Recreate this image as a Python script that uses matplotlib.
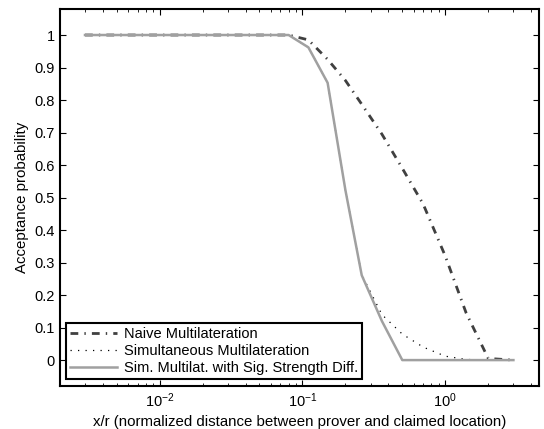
import matplotlib
matplotlib.use("Agg")
import matplotlib.pyplot as plt

plt.rcParams['font.family'] = ['Liberation Sans', 'DejaVu Sans']
plt.rcParams['mathtext.default'] = 'regular'

# distance samples (x/r) and acceptance probabilities
x_ratio = [0.003, 0.01, 0.03, 0.08, 0.11, 0.15, 0.2, 0.26, 0.36, 0.5, 0.7, 1.0, 1.4, 2.0, 3.0]
naive = [1, 1, 1, 1, 0.985, 0.925, 0.86, 0.787, 0.695, 0.59, 0.48, 0.32, 0.145, 0.005, 0]
simultaneous = [1, 1, 1, 1, 0.962, 0.853, 0.522, 0.263, 0.14, 0.08, 0.04, 0.012, 0.002, 0, 0]
sig_strength = [1, 1, 1, 1, 0.962, 0.853, 0.522, 0.261, 0.12, 0, 0, 0, 0, 0, 0]

labels = ["Naive Multilateration",
          "Simultaneous Multilateration",
          "Sim. Multilat. with Sig. Strength Diff."]

fig = plt.figure(figsize=(5.44, 4.29), dpi=100)
ax = fig.add_axes([0.110, 0.100, 0.880, 0.879])

ax.plot(x_ratio, naive, color='#404040', lw=2.0,
        linestyle=(0, (2.8, 2.2, 0.5, 2.2)), label=labels[0])
ax.plot(x_ratio, simultaneous, color='black', lw=0.9,
        linestyle=(0, (1, 5)), label=labels[1])
ax.plot(x_ratio, sig_strength, color='#a0a0a0', lw=1.8, label=labels[2])

ax.set_xscale('log')
ax.set_xlim(0.002, 4.5)
ax.set_ylim(-0.08, 1.08)
ax.set_yticks([0, 0.1, 0.2, 0.3, 0.4, 0.5, 0.6, 0.7, 0.8, 0.9, 1])
ax.set_yticklabels(['0', '0.1', '0.2', '0.3', '0.4', '0.5', '0.6', '0.7', '0.8', '0.9', '1'])

ax.tick_params(which='both', direction='in', top=True, right=True, labelsize=10.5)
ax.tick_params(which='major', length=4, width=0.8)
ax.tick_params(which='minor', length=2.5, width=0.6)
for s in ax.spines.values():
    s.set_linewidth(1.5)

ax.set_xlabel("x/r (normalized distance between prover and claimed location)", fontsize=10.8)
ax.set_ylabel("Acceptance probability", fontsize=10.8)

leg = ax.legend(loc='lower left', bbox_to_anchor=(0.013, 0.018), fontsize=10.5,
                fancybox=False, framealpha=1, edgecolor='black',
                handlelength=3.2, labelspacing=0.2, borderpad=0.3,
                handletextpad=0.45, borderaxespad=0)
leg.get_frame().set_linewidth(1.5)

fig.savefig("out.png", dpi=100)
